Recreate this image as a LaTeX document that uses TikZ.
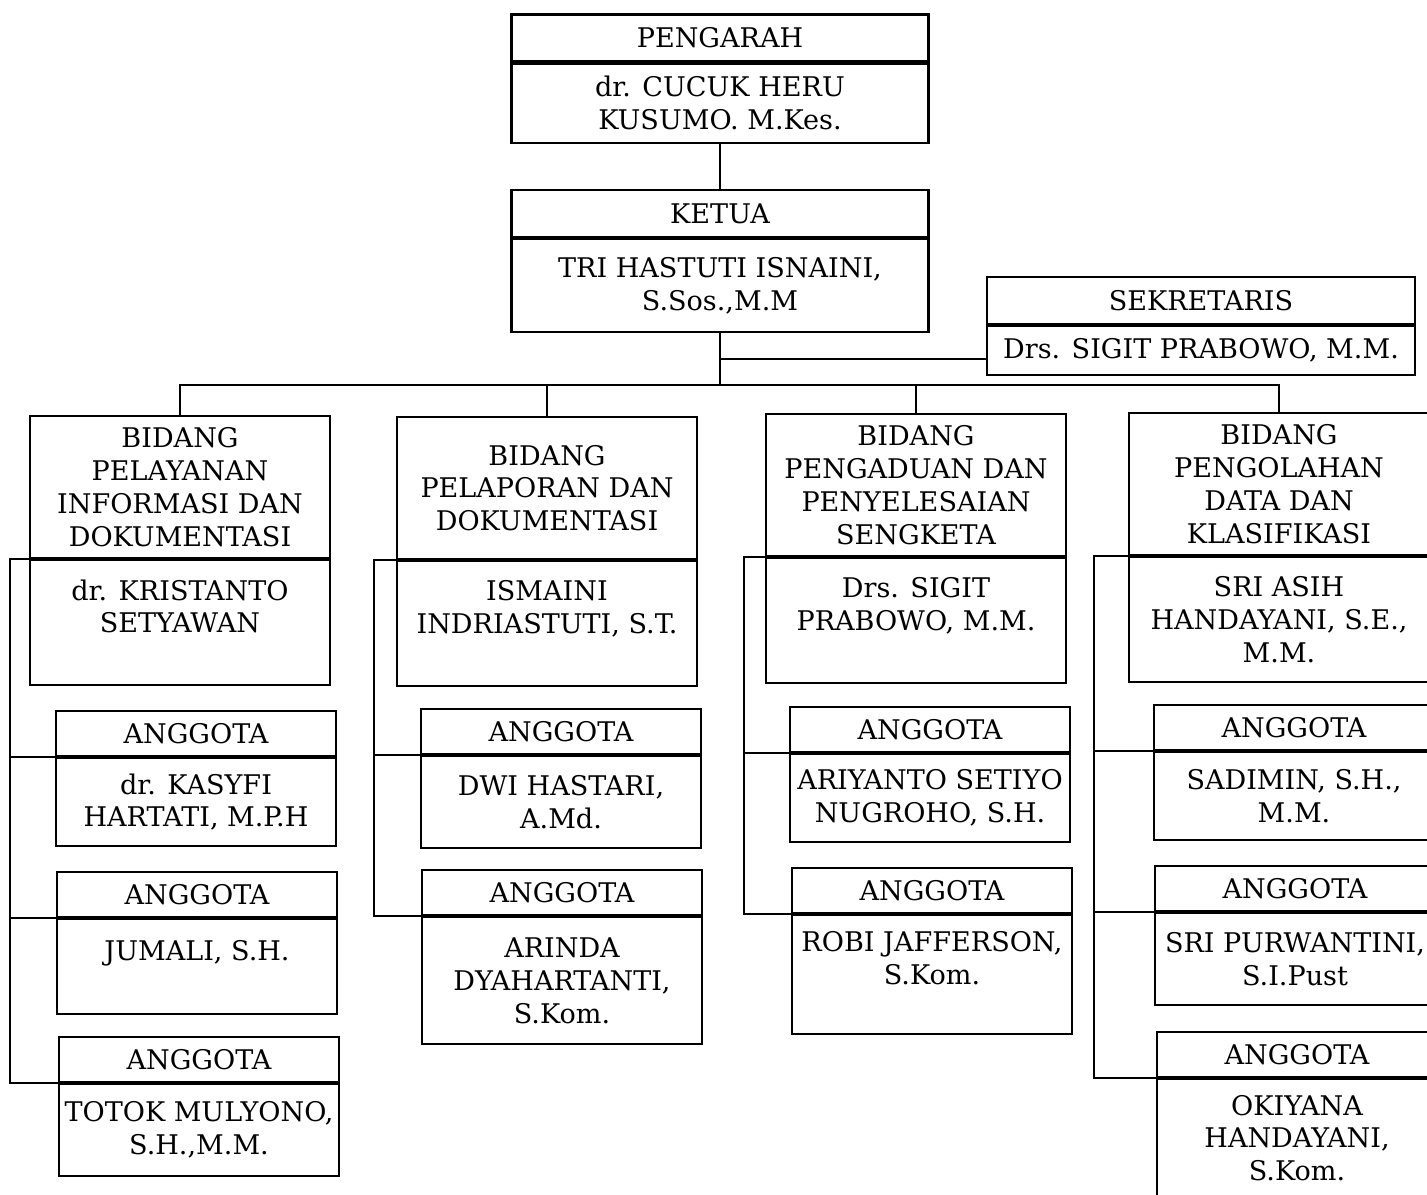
\documentclass[tikz,border=0pt]{standalone}
\usepackage{fontspec}
\setmainfont{DejaVu Serif}

\begin{document}
\begin{tikzpicture}[x=0.02cm,y=-0.02cm,line width=1.2pt,
  kotak/.style={draw,align=center,inner sep=0pt,font=\fontsize{15.4}{18.7}\selectfont},
  judul/.style={kotak,minimum height=0.94cm},
  bidang/.style={kotak,minimum width=6cm,minimum height=2.84cm},
  isibidang/.style={kotak,minimum width=6cm,minimum height=2.5cm,anchor=north},
  anggota/.style={kotak,minimum width=5.6cm,minimum height=0.9cm},
  isi/.style={kotak,anchor=north,minimum width=5.6cm}]
\path[use as bounding box,clip] (0,0) rectangle (1427,1194);

% pengarah, ketua, sekretaris
\node[judul,minimum width=8.34cm] (pengarah) at (720,38) {PENGARAH};
\node[kotak,anchor=north,minimum width=8.34cm,minimum height=1.58cm] (pengarahisi) at (pengarah.south) {dr. CUCUK HERU\\KUSUMO. M.Kes.};
\node[judul,minimum width=8.34cm] (ketua) at (720,213.5) {KETUA};
\node[kotak,anchor=north,minimum width=8.34cm,minimum height=1.86cm] (ketuaisi) at (ketua.south) {TRI HASTUTI ISNAINI,\\S.Sos.,M.M};
\node[judul,minimum width=8.56cm] (sekretaris) at (1201,300.5) {SEKRETARIS};
\node[kotak,anchor=north,minimum width=8.56cm,minimum height=0.98cm] (sekretarisisi) at (sekretaris.south) {Drs. SIGIT PRABOWO, M.M.};

% bidang
\node[bidang] (b1) at (180,487) {BIDANG\\PELAYANAN\\INFORMASI DAN\\DOKUMENTASI};
\node[isibidang] (b1isi) at (b1.south) {dr. KRISTANTO\\SETYAWAN\\ \mbox{}};
\node[bidang] (b2) at (547,488) {BIDANG\\PELAPORAN DAN\\DOKUMENTASI};
\node[isibidang] (b2isi) at (b2.south) {ISMAINI\\INDRIASTUTI, S.T.\\ \mbox{}};
\node[bidang] (b3) at (916,485) {BIDANG\\PENGADUAN DAN\\PENYELESAIAN\\SENGKETA};
\node[isibidang] (b3isi) at (b3.south) {Drs. SIGIT\\PRABOWO, M.M.\\ \mbox{}};
\node[bidang] (b4) at (1279,484) {BIDANG\\PENGOLAHAN\\DATA DAN\\KLASIFIKASI};
\node[isibidang] (b4isi) at (b4.south) {SRI ASIH\\HANDAYANI, S.E.,\\M.M.};

% anggota
\node[anggota] (a11) at (196,733.5) {ANGGOTA};
\node[isi,minimum height=1.76cm] (a11isi) at (a11.south) {dr. KASYFI\\HARTATI, M.P.H};
\node[anggota] (a12) at (197,894.5) {ANGGOTA};
\node[isi,minimum height=1.9cm] (a12isi) at (a12.south) {JUMALI, S.H.\\ \mbox{}};
\node[anggota] (a13) at (199,1059.5) {ANGGOTA};
\node[isi,minimum height=1.84cm] (a13isi) at (a13.south) {TOTOK MULYONO,\\S.H.,M.M.};

\node[anggota] (a21) at (561,731.5) {ANGGOTA};
\node[isi,minimum height=1.84cm] (a21isi) at (a21.south) {DWI HASTARI,\\A.Md.};
\node[anggota] (a22) at (562,892.5) {ANGGOTA};
\node[isi,minimum height=2.54cm] (a22isi) at (a22.south) {ARINDA\\DYAHARTANTI,\\S.Kom.};

\node[anggota] (a31) at (930,729.5) {ANGGOTA};
\node[isi,minimum height=1.76cm] (a31isi) at (a31.south) {ARIYANTO SETIYO\\NUGROHO, S.H.};
\node[anggota] (a32) at (932,890.5) {ANGGOTA};
\node[isi,minimum height=2.38cm] (a32isi) at (a32.south) {ROBI JAFFERSON,\\S.Kom.\\ \mbox{}};

\node[anggota] (a41) at (1294,727.5) {ANGGOTA};
\node[isi,minimum height=1.76cm] (a41isi) at (a41.south) {SADIMIN, S.H.,\\M.M.};
\node[anggota] (a42) at (1295,888.5) {ANGGOTA};
\node[isi,minimum height=1.84cm] (a42isi) at (a42.south) {SRI PURWANTINI,\\S.I.Pust};
\node[anggota] (a43) at (1297,1054.5) {ANGGOTA};
\node[isi,minimum height=2.36cm] (a43isi) at (a43.south) {OKIYANA\\HANDAYANI,\\S.Kom.};

% garis
\coordinate (bus) at (720,385);
\draw (pengarahisi.south) -- (ketua.north);
\draw (ketuaisi.south) -- (bus);
\draw ([yshift=-0.16cm]sekretarisisi.west) -- ([yshift=-0.16cm]sekretarisisi.west -| bus);
\draw (b1.north) |- (bus) -| (b4.north);
\draw (b2.north) -- (b2.north |- bus);
\draw (b3.north) -- (b3.north |- bus);

\coordinate (s1) at (10,0);
\coordinate (s2) at (374,0);
\coordinate (s3) at (744,0);
\coordinate (s4) at (1094,0);
\draw (b1isi.north west) -| (s1 |- a13isi.north west) -- (a13isi.north west);
\draw (a11isi.north west) -- (a11isi.north west -| s1);
\draw (a12isi.north west) -- (a12isi.north west -| s1);
\draw (b2isi.north west) -| (s2 |- a22isi.north west) -- (a22isi.north west);
\draw (a21isi.north west) -- (a21isi.north west -| s2);
\draw (b3isi.north west) -| (s3 |- a32isi.north west) -- (a32isi.north west);
\draw (a31isi.north west) -- (a31isi.north west -| s3);
\draw (b4isi.north west) -| (s4 |- a43isi.north west) -- (a43isi.north west);
\draw (a41isi.north west) -- (a41isi.north west -| s4);
\draw (a42isi.north west) -- (a42isi.north west -| s4);
\end{tikzpicture}
\end{document}
